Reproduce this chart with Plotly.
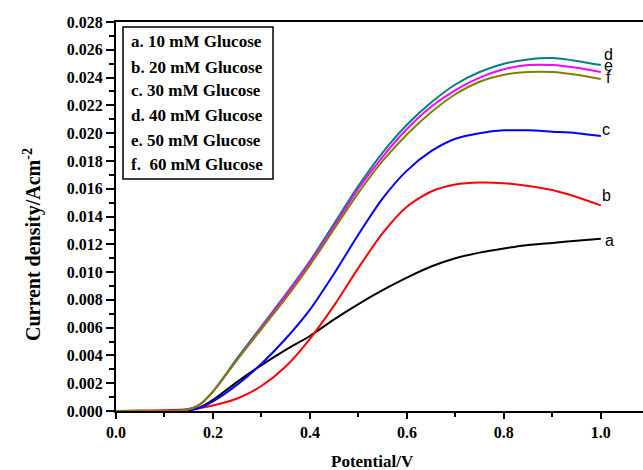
import plotly.graph_objects as go

potential = [0.0, 0.05, 0.10, 0.14, 0.17, 0.20, 0.25, 0.30, 0.35, 0.40, 0.45, 0.50, 0.55,
             0.60, 0.65, 0.70, 0.75, 0.80, 0.85, 0.90, 0.95, 1.0]

curve_a = [0, 0, 0, 0.00003, 0.0002, 0.0008, 0.0021, 0.0033, 0.0044, 0.0054, 0.0066, 0.0077, 0.0087,
           0.0096, 0.0104, 0.0110, 0.0114, 0.0117, 0.01195, 0.0121, 0.01225, 0.0124]
curve_b = [0, 0.00003, 0.00005, 0.0001, 0.0002, 0.0004, 0.0009, 0.0018, 0.0032, 0.0052, 0.0076, 0.0103, 0.0128,
           0.0147, 0.0158, 0.0163, 0.01645, 0.0164, 0.0162, 0.0159, 0.0154, 0.0148]
curve_c = [0, 0, 0, 0.00003, 0.0002, 0.0007, 0.0019, 0.0034, 0.0052, 0.0073, 0.0099, 0.0127, 0.0153,
           0.0173, 0.0187, 0.0196, 0.0200, 0.0202, 0.0202, 0.0201, 0.0200, 0.0198]
curve_d = [0, 0, 0, 0.00005, 0.0004, 0.0014, 0.0038, 0.0061, 0.0084, 0.0108, 0.0135, 0.0162, 0.0186,
           0.0206, 0.0222, 0.0235, 0.0244, 0.0250, 0.0253, 0.0254, 0.0252, 0.0249]
curve_e = [0, 0, 0, 0.00005, 0.0004, 0.0014, 0.0037, 0.0060, 0.0083, 0.0107, 0.0133, 0.0160, 0.0183,
           0.0203, 0.0219, 0.0231, 0.0240, 0.0246, 0.0249, 0.0249, 0.0247, 0.0244]
curve_f = [0, 0, 0, 0.00005, 0.0004, 0.0014, 0.0037, 0.0059, 0.0081, 0.0105, 0.0131, 0.0157, 0.0180,
           0.0199, 0.0215, 0.0228, 0.0237, 0.0242, 0.0244, 0.0244, 0.0242, 0.0239]

legend_labels = ["a. 10 mM Glucose", "b. 20 mM Glucose", "c. 30 mM Glucose",
                 "d. 40 mM Glucose", "e. 50 mM Glucose", "f.  60 mM Glucose"]
end_labels = ["a", "b", "c", "d", "e", "f"]
colors = ["#000000", "#ff0000", "#0000ff", "#008080", "#ff00ff", "#808000"]
series = [curve_a, curve_b, curve_c, curve_d, curve_e, curve_f]

W, H = 643, 470
ML, MR, MT, MB = 116, 0, 22, 59
pw, ph = W - ML - MR, H - MT - MB

fig = go.Figure()
for i in [0, 1, 2, 3, 4, 5]:
    fig.add_trace(go.Scatter(x=potential, y=series[i], mode="lines",
                             line=dict(color=colors[i], width=2, shape="spline", smoothing=0.7),
                             showlegend=False, hoverinfo="skip"))

serif = "Liberation Serif"
tickfont = dict(family=serif, size=16, color="black", weight="bold")

fig.update_xaxes(range=[0, 1.087], showline=True, linecolor="black", linewidth=2, mirror=True,
                 ticks="outside", ticklen=6, tickwidth=2, tickcolor="black", dtick=0.2, tick0=0,
                 tickformat=".1f", tickfont=tickfont, showgrid=False, zeroline=False,
                 minor=dict(ticks="outside", ticklen=4, tickwidth=2, tickcolor="black", dtick=0.1))
fig.update_yaxes(range=[0, 0.028], showline=True, linecolor="black", linewidth=2, mirror=False,
                 ticks="outside", ticklen=8, tickwidth=2, tickcolor="black", dtick=0.002, tick0=0,
                 tickformat=".3f", tickfont=tickfont, showgrid=False, zeroline=False,
                 minor=dict(ticks="outside", ticklen=5, tickwidth=2, tickcolor="black", dtick=0.001))

def px_x(p):
    return (p - ML) / pw

def px_y(p):
    return (H - MB - p) / ph

annotations = []
legend_y = [42, 67, 91, 116, 140, 164]
for lab, yy in zip(legend_labels, legend_y):
    annotations.append(dict(text="<b>" + lab + "</b>", xref="paper", yref="paper",
                            x=px_x(129), y=px_y(yy), xanchor="left", yanchor="middle",
                            showarrow=False, font=dict(family=serif, size=17, color="black")))
end_pos = [(1.018, 0.01224), (1.012, 0.01548), (1.010, 0.02023), (1.016, 0.02563), (1.016, 0.02484), (1.016, 0.02397)]
for lab, (xx, yy) in zip(end_labels, end_pos):
    annotations.append(dict(text=lab, x=xx, y=yy, xref="x", yref="y", showarrow=False,
                            xanchor="center", yanchor="middle",
                            font=dict(family="Liberation Sans", size=16, color="black")))
annotations.append(dict(text="<b>Potential/V</b>", xref="paper", yref="paper", x=px_x(372), y=px_y(461),
                        xanchor="center", yanchor="middle", showarrow=False,
                        font=dict(family=serif, size=17, color="black")))
annotations.append(dict(text="<b>Current density/Acm<sup>-2</sup></b>", xref="paper", yref="paper",
                        x=px_x(32), y=px_y(245), xanchor="center", yanchor="middle", textangle=-90,
                        showarrow=False, font=dict(family=serif, size=20, color="black")))

fig.add_shape(type="rect", xref="paper", yref="paper", x0=px_x(123), x1=px_x(273),
              y0=px_y(179), y1=px_y(27), line=dict(color="black", width=1.5), fillcolor="rgba(0,0,0,0)")

fig.update_layout(width=W, height=H, margin=dict(l=ML, r=MR, t=MT, b=MB),
                  paper_bgcolor="white", plot_bgcolor="white", annotations=annotations,
                  showlegend=False)

fig.write_html("out.html")
